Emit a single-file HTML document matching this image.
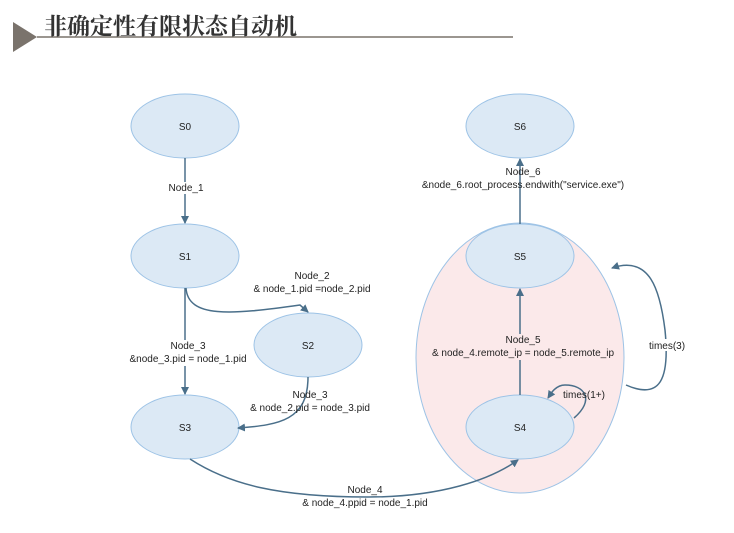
<!DOCTYPE html>
<html><head><meta charset="utf-8"><style>
body{margin:0;background:#fff;width:734px;height:528px;overflow:hidden}
svg text{font-family:"Liberation Sans","Noto Sans CJK SC",sans-serif;font-size:10px;fill:#222}
</style></head><body>
<svg width="734" height="528" viewBox="0 0 734 528">
<defs>
<marker id="a" markerWidth="8" markerHeight="8" refX="7" refY="4" orient="auto" markerUnits="userSpaceOnUse"><path d="M0,0 L8,4 L0,8 z" fill="#4a6f8a"/></marker>
</defs>
<polygon points="13,22 37,37 13,52" fill="#7a736c"/>
<line x1="37" y1="37" x2="513" y2="37" stroke="#7a736c" stroke-width="1.5"/>
<text x="44" y="34" style="font-family:'Noto Serif CJK SC',serif;font-size:23px;font-weight:bold;fill:#333">非确定性有限状态自动机</text>

<ellipse cx="520" cy="358" rx="104" ry="135" fill="#fbe9ea" stroke="#9dc3e6"/>
<g fill="#dce9f5" stroke="#9dc3e6">
<ellipse cx="185" cy="126" rx="54" ry="32"/>
<ellipse cx="185" cy="256" rx="54" ry="32"/>
<ellipse cx="308" cy="345" rx="54" ry="32"/>
<ellipse cx="185" cy="427" rx="54" ry="32"/>
<ellipse cx="520" cy="427" rx="54" ry="32"/>
<ellipse cx="520" cy="256" rx="54" ry="32"/>
<ellipse cx="520" cy="126" rx="54" ry="32"/>
</g>
<g text-anchor="middle">
<text x="185" y="130">S0</text><text x="185" y="260">S1</text><text x="308" y="349">S2</text>
<text x="185" y="431">S3</text><text x="520" y="431">S4</text><text x="520" y="260">S5</text><text x="520" y="130">S6</text>
</g>
<g stroke="#4a6f8a" stroke-width="1.5" fill="none" marker-end="url(#a)">
<line x1="185" y1="158" x2="185" y2="223"/>
<line x1="185" y1="288" x2="185" y2="394"/>
<path d="M186,288 C188,318 230,315 300,305 L308,312"/>
<path d="M308,377 C308,420 280,425 238,428"/>
<path d="M190,459 C230,485 280,497 368,497 C440,497 490,480 518,460"/>
<line x1="520" y1="395" x2="520" y2="289"/>
<line x1="520" y1="224" x2="520" y2="159"/>
<path d="M574,418 C595,400 585,385 565,385 C555,385 550,395 548,398"/>
<path d="M626,385 C660,400 670,380 665,330 C660,290 650,255 612,268"/>
</g>
<g text-anchor="middle">
<rect x="165" y="182" width="42" height="12" fill="#fff"/>
<text x="186" y="191">Node_1</text>
<text x="312" y="279">Node_2</text><text x="312" y="292">&amp; node_1.pid =node_2.pid</text>
<rect x="140" y="340" width="100" height="26" fill="#fff"/>
<text x="188" y="349">Node_3</text><text x="188" y="362">&amp;node_3.pid = node_1.pid</text>
<text x="310" y="398">Node_3</text><text x="310" y="411">&amp; node_2.pid = node_3.pid</text>
<text x="365" y="493">Node_4</text><text x="365" y="506">&amp; node_4.ppid = node_1.pid</text>
<rect x="432" y="334" width="188" height="26" fill="#fbe9ea"/>
<text x="523" y="343">Node_5</text><text x="523" y="356">&amp; node_4.remote_ip = node_5.remote_ip</text>
<text x="523" y="175">Node_6</text><text x="523" y="188">&amp;node_6.root_process.endwith("service.exe")</text>
<text x="584" y="398">times(1+)</text>
<rect x="648" y="339" width="40" height="12" fill="#fff"/>
<text x="667" y="349">times(3)</text>
</g>
</svg>
</body></html>
